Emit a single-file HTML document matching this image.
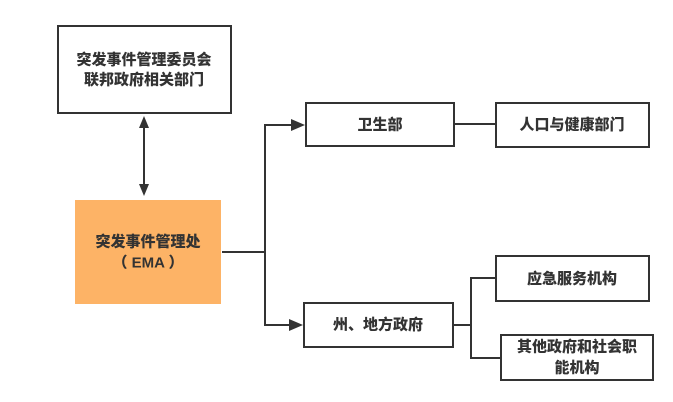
<!DOCTYPE html>
<html><head><meta charset="utf-8"><style>
html,body{margin:0;padding:0;background:#fff;}
svg{display:block;}
text{font-family:"Liberation Sans","Noto Sans CJK SC",sans-serif;font-size:15px;font-weight:900;fill:#333;text-anchor:middle;dominant-baseline:central;}
</style></head><body>
<svg width="673" height="402" viewBox="0 0 673 402">
<g fill="#fff" stroke="#333" stroke-width="2">
<rect x="58" y="26" width="173" height="87"/>
<rect x="306" y="103" width="148" height="43"/>
<rect x="496" y="103" width="153" height="44"/>
<rect x="304" y="303" width="149" height="44"/>
<rect x="496" y="256" width="153" height="45"/>
<rect x="501" y="335" width="152" height="45"/>
</g>
<rect x="75" y="200" width="146" height="104" fill="#FDB366"/>
<g stroke="#333" stroke-width="2" fill="none">
<line x1="144" y1="126" x2="144" y2="184"/>
<path d="M144,116 l-5,12 h10 z" fill="#333" stroke="none"/>
<path d="M144,196 l-5,-12 h10 z" fill="#333" stroke="none"/>
<line x1="222" y1="252" x2="265" y2="252"/>
<path d="M293,125 H265 V325 H291" />
<path d="M291,119 L305,125 L291,131 z" fill="#333" stroke="none"/>
<path d="M289,319 L303,325 L289,331 z" fill="#333" stroke="none"/>
<line x1="455" y1="124" x2="496" y2="124"/>
<line x1="454" y1="325" x2="471" y2="325"/>
<path d="M496,278 H471 V358 H501"/>
</g>
<text x="144" y="60">突发事件管理委员会</text>
<text x="144" y="80">联邦政府相关部门</text>
<text x="148" y="242">突发事件管理处</text>
<text x="148" y="263">（ EMA ）</text>
<text x="380" y="125">卫生部</text>
<text x="572" y="125">人口与健康部门</text>
<text x="378" y="325">州、地方政府</text>
<text x="572" y="279">应急服务机构</text>
<text x="577" y="347">其他政府和社会职</text>
<text x="577" y="368">能机构</text>
</svg>
</body></html>
